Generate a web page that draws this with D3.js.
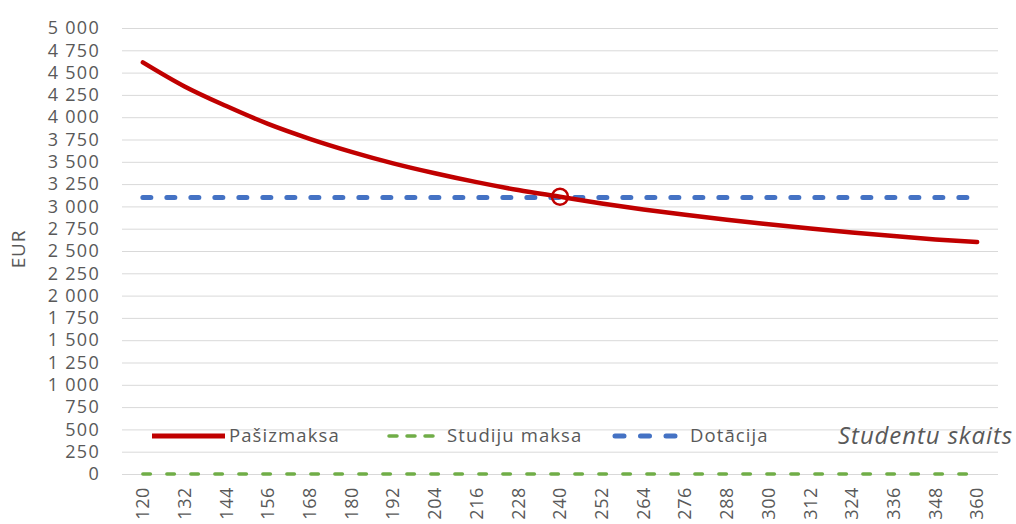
<!DOCTYPE html>
<html>
<head>
<meta charset="utf-8">
<script src="https://cdn.jsdelivr.net/npm/d3@7"></script>
<style>
  body { margin: 0; background: #fff; }
  text { font-family: "Open Sans", "Noto Sans", sans-serif; fill: #595959; }
</style>
</head>
<body>
<div id="chart"></div>
<script>
// categories: number of students
const students = [120, 132, 144, 156, 168, 180, 192, 204, 216, 228, 240,
                  252, 264, 276, 288, 300, 312, 324, 336, 348, 360];
// cost per student
const pasizmaksa = [4615, 4345, 4125, 3925, 3758, 3612, 3483, 3372, 3272, 3183, 3108,
                    3033, 2966, 2906, 2850, 2800, 2752, 2708, 2667, 2630, 2600];
const studijuMaksa = students.map(() => 0);
const dotacija = students.map(() => 3100);
const crossIndex = 10; // marker at 240 students
const yTicks = d3.range(0, 5001, 250);

const seriesNames = ["Pašizmaksa", "Studiju maksa", "Dotācija"];
const axisTitleY = "EUR", axisTitleX = "Studentu skaits";

const width = 1016, height = 524;
const plot = {left: 122, right: 998, top: 28, bottom: 474};

const svg = d3.select("#chart").append("svg")
  .attr("width", width).attr("height", height);

/*----- Scales -----*/
const x = d3.scaleBand().domain(students).range([plot.left, plot.right]).padding(0);
const cx = d => x(d) + x.bandwidth() / 2;
const y = d3.scaleLinear().domain([0, 5000]).range([plot.bottom, plot.top]);

const loc = d3.formatLocale({decimal: ",", thousands: " ", grouping: [3], currency: ["", ""]});
const fmt = loc.format(",d");

/*----- Gridlines + y labels -----*/
const yAxis = d3.axisLeft(y).tickValues(yTicks).tickFormat(fmt)
  .tickSize(-(plot.right - plot.left)).tickPadding(22);
const gy = svg.append("g").attr("transform", `translate(${plot.left},0)`).call(yAxis);
gy.select(".domain").remove();
gy.selectAll("line").attr("stroke", "#d9d9d9").attr("stroke-width", 1);
gy.selectAll("text").style("font-size", "18px").style("letter-spacing", "1.3px")
  .attr("fill", "#595959");

/*----- x labels -----*/
const xAxis = d3.axisBottom(x).tickSize(0).tickPadding(0);
const gx = svg.append("g").attr("transform", `translate(0,${plot.bottom})`).call(xAxis);
gx.select(".domain").remove();
gx.selectAll("text")
  .style("font-size", "18px").style("letter-spacing", "0.6px")
  .attr("fill", "#595959")
  .attr("text-anchor", "end")
  .attr("dy", "0.35em")
  .attr("transform", "translate(0,13) rotate(-90)")
  .attr("x", 0).attr("y", 0);

/*----- Lines -----*/
const line = vals => d3.line()
  .x((d, i) => cx(students[i]))
  .y(d => y(d))(vals);

svg.append("path").attr("d", line(studijuMaksa))
  .attr("fill", "none").attr("stroke", "#70ad47").attr("stroke-width", 3.5)
  .attr("stroke-linecap", "round").attr("stroke-dasharray", "7.5 16.5");

svg.append("path").attr("d", line(dotacija))
  .attr("fill", "none").attr("stroke", "#4472c4").attr("stroke-width", 5)
  .attr("stroke-linecap", "round").attr("stroke-dasharray", "8 16");

svg.append("path")
  .attr("d", d3.line().x((d, i) => cx(students[i])).y(d => y(d)).curve(d3.curveMonotoneX)(pasizmaksa))
  .attr("fill", "none").attr("stroke", "#c00000").attr("stroke-width", 4.5)
  .attr("stroke-linecap", "round");

// crossing marker
svg.append("circle")
  .attr("cx", cx(students[crossIndex])).attr("cy", y(pasizmaksa[crossIndex]))
  .attr("r", 8).attr("fill", "none").attr("stroke", "#c00000").attr("stroke-width", 2.5);

/*----- Legend -----*/
const legendY = 436;
const legend = [
  {name: seriesNames[0], color: "#c00000", x1: 152, x2: 225, dash: null, w: 5, tx: 229},
  {name: seriesNames[1], color: "#70ad47", x1: 389, x2: 433, dash: "8 10", w: 3.5, tx: 447},
  {name: seriesNames[2], color: "#4472c4", x1: 615, x2: 675, dash: "9 16.5", w: 5, tx: 690}
];
const lg = svg.append("g").selectAll("g").data(legend).enter().append("g");
lg.append("line")
  .attr("x1", d => d.x1).attr("x2", d => d.x2)
  .attr("y1", legendY).attr("y2", legendY)
  .attr("stroke", d => d.color).attr("stroke-width", d => d.w)
  .attr("stroke-linecap", d => d.dash ? "round" : "butt")
  .attr("stroke-dasharray", d => d.dash);
lg.append("text")
  .attr("x", d => d.tx).attr("y", legendY).attr("dy", "0.35em")
  .style("font-size", "18.5px").style("letter-spacing", "1.1px")
  .text(d => d.name);

/*----- Axis titles -----*/
svg.append("text")
  .attr("transform", "translate(18,249) rotate(-90)")
  .attr("text-anchor", "middle").attr("dy", "0.35em")
  .style("font-size", "19px").style("letter-spacing", "0.8px")
  .text(axisTitleY);

svg.append("text")
  .attr("x", 1013).attr("y", 444).attr("text-anchor", "end")
  .style("font-size", "24px").style("font-style", "italic").style("letter-spacing", "0.9px")
  .text(axisTitleX);
</script>
</body>
</html>
